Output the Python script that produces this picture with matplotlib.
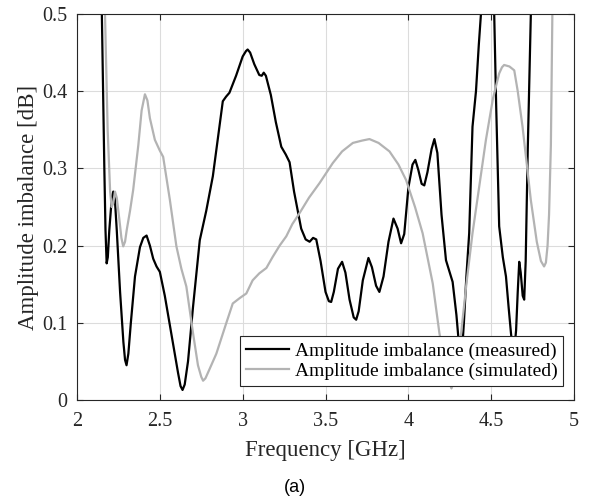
import matplotlib.pyplot as plt

# measured curve (GHz, dB)
freq_meas = [2.14, 2.15, 2.165, 2.172, 2.179, 2.186, 2.195, 2.21, 2.219, 2.228, 2.24, 2.26, 2.28, 2.29,
             2.299, 2.31, 2.325, 2.35, 2.38, 2.40, 2.42, 2.44, 2.46, 2.48, 2.5, 2.53, 2.57, 2.61, 2.625,
             2.637, 2.65, 2.67, 2.70, 2.741, 2.78, 2.82, 2.86, 2.88, 2.90, 2.92, 2.96, 3.00, 3.02, 3.03,
             3.045, 3.07, 3.10, 3.115, 3.127, 3.14, 3.17, 3.20, 3.233, 3.26, 3.283, 3.31, 3.353, 3.38,
             3.404, 3.425, 3.444, 3.47, 3.50, 3.52, 3.534, 3.55, 3.575, 3.60, 3.62, 3.645, 3.67, 3.685,
             3.70, 3.725, 3.759, 3.78, 3.805, 3.825, 3.85, 3.88, 3.91, 3.935, 3.956, 3.975, 4.00, 4.025,
             4.042, 4.06, 4.08, 4.096, 4.115, 4.14, 4.157, 4.175, 4.20, 4.227, 4.25, 4.267, 4.29, 4.31,
             4.32, 4.335, 4.35, 4.367, 4.387, 4.408, 4.425, 4.438, 4.458, 4.478, 4.498, 4.518, 4.53,
             4.548, 4.57, 4.589, 4.605, 4.619, 4.635, 4.65, 4.66, 4.669, 4.678, 4.69, 4.699, 4.708,
             4.72, 4.739, 4.75]
amp_meas = [0.60, 0.50, 0.30, 0.22, 0.177, 0.185, 0.22, 0.262, 0.27, 0.262, 0.22, 0.14, 0.075, 0.052,
            0.045, 0.06, 0.10, 0.16, 0.198, 0.21, 0.213, 0.20, 0.183, 0.173, 0.166, 0.135, 0.085, 0.035, 0.018,
            0.013, 0.02, 0.05, 0.12, 0.207, 0.245, 0.29, 0.355, 0.387, 0.393, 0.398, 0.42, 0.445, 0.452, 0.454,
            0.45, 0.435, 0.421, 0.42, 0.424, 0.42, 0.395, 0.36, 0.328, 0.318, 0.308, 0.27, 0.222, 0.208,
            0.205, 0.21, 0.208, 0.18, 0.14, 0.128, 0.127, 0.14, 0.17, 0.179, 0.165, 0.13, 0.107, 0.104,
            0.115, 0.155, 0.184, 0.172, 0.148, 0.14, 0.16, 0.205, 0.235, 0.222, 0.203, 0.215, 0.275, 0.305,
            0.311, 0.298, 0.28, 0.278, 0.295, 0.325, 0.338, 0.32, 0.24, 0.181, 0.165, 0.153, 0.11, 0.06,
            0.05, 0.10, 0.16, 0.216, 0.354, 0.40, 0.46, 0.50, 0.58, 0.62, 0.58, 0.50, 0.38,
            0.225, 0.185, 0.16, 0.12, 0.087, 0.055, 0.09, 0.14, 0.179, 0.165, 0.135, 0.13, 0.18,
            0.32, 0.50, 0.60]

# simulated curve (GHz, dB)
freq_sim = [2.16, 2.169, 2.185, 2.20, 2.209, 2.219, 2.229, 2.24, 2.255, 2.268, 2.279, 2.29, 2.30, 2.32,
            2.339, 2.37, 2.39, 2.41, 2.425, 2.44, 2.47, 2.50, 2.52, 2.56, 2.60, 2.63, 2.66, 2.70, 2.73,
            2.75, 2.761, 2.775, 2.80, 2.841, 2.90, 2.94, 2.982, 3.022, 3.06, 3.10, 3.143, 3.18, 3.223,
            3.263, 3.30, 3.343, 3.40, 3.464, 3.544, 3.60, 3.665, 3.72, 3.765, 3.82, 3.886, 3.94, 3.986,
            4.04, 4.086, 4.147, 4.187, 4.23, 4.26, 4.285, 4.317, 4.35, 4.387, 4.43, 4.468, 4.51, 4.548,
            4.565, 4.578, 4.61, 4.639, 4.66, 4.689, 4.739, 4.775, 4.80, 4.819, 4.83, 4.84, 4.849,
            4.86, 4.869, 4.88]
amp_sim = [0.60, 0.50, 0.35, 0.27, 0.25, 0.255, 0.27, 0.262, 0.235, 0.21, 0.199, 0.205, 0.22, 0.245,
           0.272, 0.33, 0.375, 0.396, 0.388, 0.365, 0.337, 0.323, 0.315, 0.26, 0.199, 0.17, 0.147, 0.087,
           0.045, 0.03, 0.025, 0.028, 0.04, 0.06, 0.099, 0.125, 0.132, 0.138, 0.155, 0.164, 0.171, 0.185,
           0.20, 0.212, 0.228, 0.242, 0.262, 0.281, 0.307, 0.322, 0.333, 0.336, 0.338, 0.333, 0.322,
           0.305, 0.285, 0.25, 0.216, 0.151, 0.087, 0.035, 0.015, 0.03, 0.084, 0.15, 0.216, 0.28, 0.337,
           0.39, 0.423, 0.431, 0.434, 0.432, 0.427, 0.40, 0.354, 0.259, 0.205, 0.18, 0.173, 0.178,
           0.2, 0.24, 0.33, 0.50, 0.60]

xticks = [2, 2.5, 3, 3.5, 4, 4.5, 5]
xticklabels = ['2', '2.5', '3', '3.5', '4', '4.5', '5']
yticks = [0, 0.1, 0.2, 0.3, 0.4, 0.5]
yticklabels = ['0', '0.1', '0.2', '0.3', '0.4', '0.5']

plt.rcParams['font.family'] = 'Liberation Serif'

fig = plt.figure(figsize=(5.9, 5.0), dpi=100)
ax = fig.add_axes([0.1305, 0.2, 0.8425, 0.772])

ax.plot(freq_meas, amp_meas, color='black', linewidth=1.6, label='Amplitude imbalance (measured)')
ax.plot(freq_sim, amp_sim, color='#b3b3b3', linewidth=1.6, label='Amplitude imbalance (simulated)')

ax.set_xlim(2, 5)
ax.set_ylim(0, 0.5)
ax.set_xticks(xticks)
ax.set_xticklabels(xticklabels)
ax.set_yticks(yticks)
ax.set_yticklabels(yticklabels)
ax.tick_params(direction='in', top=True, right=True, labelsize=14.5, colors='#262626', length=4)
ax.tick_params(axis='x', pad=9)
ax.tick_params(axis='y', pad=7)
for s in ax.spines.values():
    s.set_color('#262626')
ax.grid(True, color='#dcdcdc', linewidth=0.8)

ax.set_xlabel('Frequency [GHz]', fontsize=16.5, color='#262626', labelpad=6)
ax.set_ylabel('Amplitude imbalance [dB]', fontsize=16.5, color='#262626', labelpad=2)

leg = ax.legend(loc='lower right', bbox_to_anchor=(0.978, 0.036), borderaxespad=0,
                fontsize=14, fancybox=False, edgecolor='#262626', framealpha=1,
                handlelength=2.2, handletextpad=0.3, borderpad=0.3, labelspacing=0.15)
leg.get_frame().set_linewidth(0.8)

fig.text(0.5, 0.026, '(a)', family='Liberation Sans', fontsize=13, ha='center', va='center')

fig.savefig('out.png', dpi=100)
